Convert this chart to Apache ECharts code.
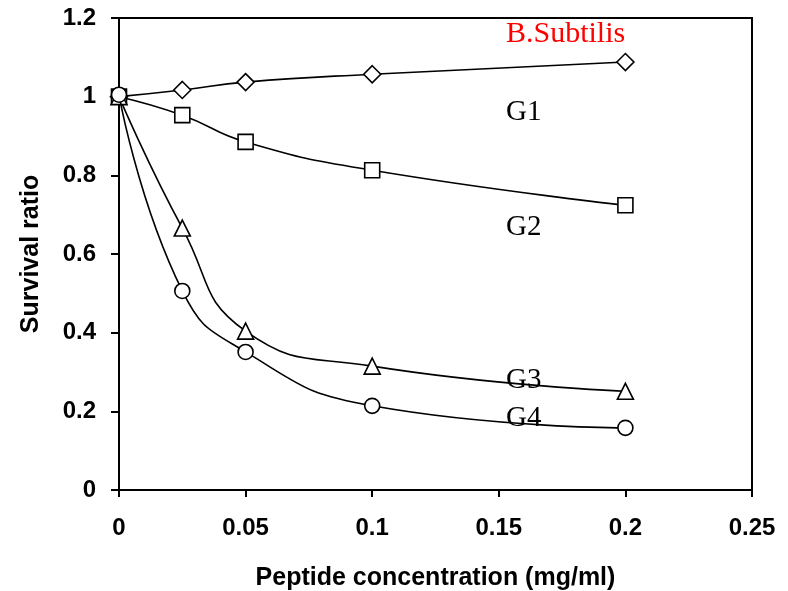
<!DOCTYPE html>
<html>
<head>
<meta charset="utf-8">
<script src="https://cdn.jsdelivr.net/npm/echarts@6/dist/echarts.min.js"></script>
<style>html,body{margin:0;padding:0;background:#fff;}#c{width:788px;height:591px;}</style>
</head>
<body>
<div id="c"></div>
<script>
var concentrations = [0, 0.025, 0.05, 0.1, 0.2];
var g1 = [1.0, 1.017, 1.037, 1.057, 1.088];
var g2 = [1.0, 0.953, 0.885, 0.813, 0.724];
var g3 = [1.0, 0.666, 0.404, 0.315, 0.251];
var g4 = [1.005, 0.506, 0.351, 0.214, 0.158];
var seriesNames = ['G1', 'G2', 'G3', 'G4'];
var seriesSymbols = ['diamond', 'rect', 'triangle', 'circle'];
var xTicks = [0, 0.05, 0.1, 0.15, 0.2, 0.25];
var yTicks = [0, 0.2, 0.4, 0.6, 0.8, 1, 1.2];

function pairs(ys) { return concentrations.map(function (x, i) { return [x, ys[i]]; }); }
var symbolSizes = { diamond: 17, rect: 15, triangle: 16, circle: 15 };
var all = [g1, g2, g3, g4];
var series = all.map(function (ys, i) {
  return {
    name: seriesNames[i], type: 'line', data: pairs(ys), smooth: 0.5,
    symbol: seriesSymbols[i], symbolSize: symbolSizes[seriesSymbols[i]],
    showAllSymbol: true,
    lineStyle: { color: '#000', width: 1.6 },
    itemStyle: { color: '#fff', borderColor: '#000', borderWidth: 1.6 },
    z: 2 + i
  };
});

var chart = echarts.init(document.getElementById('c'), null, { renderer: 'canvas' });
var labelFont = { fontFamily: 'Liberation Sans, Arial, sans-serif', fontWeight: 'bold', color: '#000' };
var serif = '"Liberation Serif", "Times New Roman", serif';
chart.setOption({
  animation: false,
  backgroundColor: '#fff',
  grid: { left: 119, right: 36, top: 18, bottom: 101, containLabel: false, outerBoundsMode: 'none', show: true, borderColor: '#000', borderWidth: 2, backgroundColor: 'transparent' },
  xAxis: {
    type: 'value', min: 0, max: 0.25, interval: 0.05,
    name: 'Peptide concentration (mg/ml)', nameLocation: 'middle', nameGap: 76,
    nameTextStyle: Object.assign({ fontSize: 25 }, labelFont),
    axisLine: { show: true, lineStyle: { color: '#000', width: 2 } },
    axisTick: { show: true, inside: false, length: 7, lineStyle: { color: '#000', width: 2 } },
    axisLabel: Object.assign({ fontSize: 24, margin: 26, formatter: function (v) { return String(+v.toFixed(2)); } }, labelFont),
    splitLine: { show: false }
  },
  yAxis: {
    type: 'value', min: 0, max: 1.2, interval: 0.2,
    name: 'Survival ratio', nameLocation: 'middle', nameGap: 75, nameRotate: 90,
    nameTextStyle: Object.assign({ fontSize: 25 }, labelFont),
    axisLine: { show: true, lineStyle: { color: '#000', width: 2 } },
    axisTick: { show: true, inside: false, length: 8, lineStyle: { color: '#000', width: 2 } },
    axisLabel: Object.assign({ fontSize: 24, margin: 23, formatter: function (v) { return String(+v.toFixed(1)); } }, labelFont),
    splitLine: { show: false }
  },
  series: series,
  graphic: [
    { type: 'text', left: 506, top: 19, style: { text: 'B.Subtilis', fill: '#ff0000', font: '30px ' + serif } },
    { type: 'text', left: 506, top: 98, style: { text: 'G1', fill: '#000', font: '29px ' + serif } },
    { type: 'text', left: 506, top: 213, style: { text: 'G2', fill: '#000', font: '29px ' + serif } },
    { type: 'text', left: 506, top: 366, style: { text: 'G3', fill: '#000', font: '29px ' + serif } },
    { type: 'text', left: 506, top: 404, style: { text: 'G4', fill: '#000', font: '29px ' + serif } }
  ]
});
</script>
</body>
</html>
